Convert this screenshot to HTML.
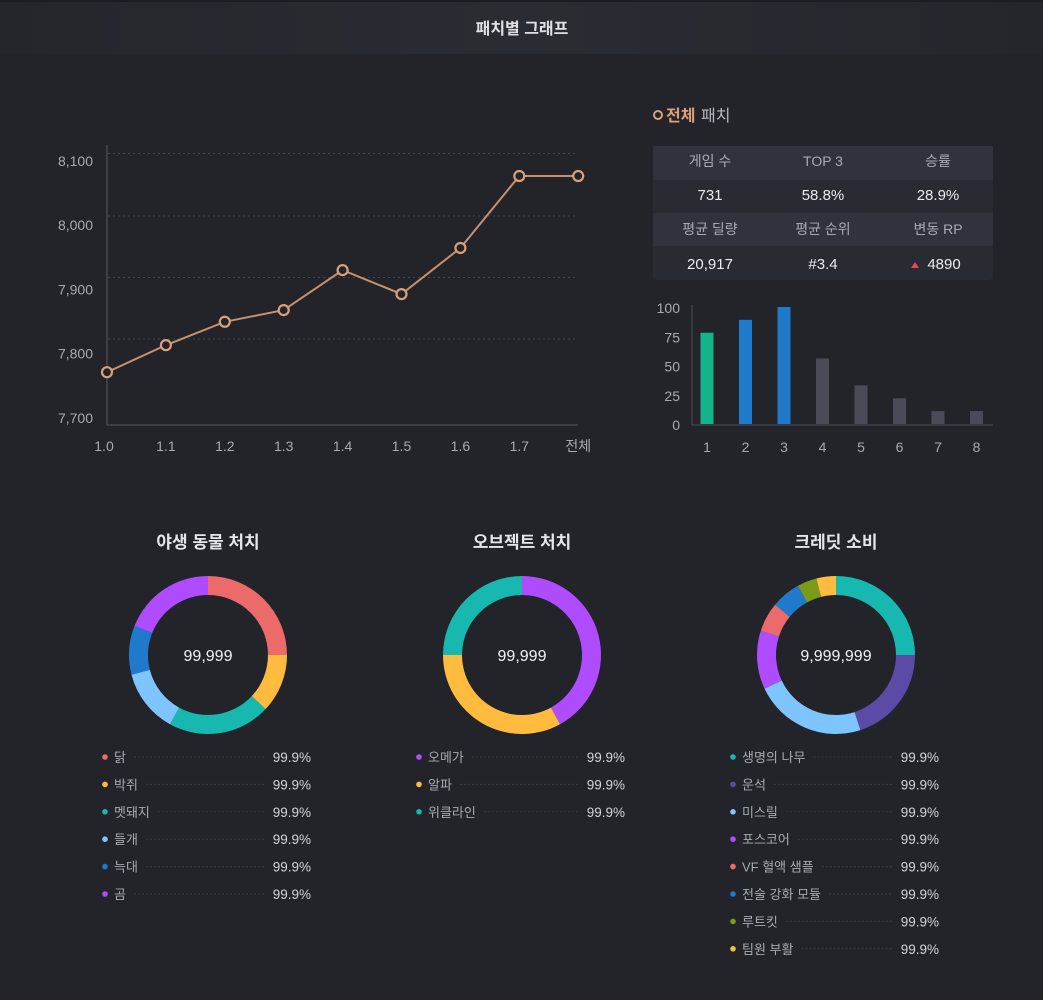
<!DOCTYPE html>
<html><head><meta charset="utf-8">
<style>
html,body{margin:0;padding:0;background:#23242a;width:1043px;height:1000px;overflow:hidden;font-family:"Liberation Sans","Noto Sans CJK KR",sans-serif;}
svg text{font-family:"Liberation Sans","Noto Sans CJK KR",sans-serif;}
</style></head>
<body>
<svg id="s" width="1043" height="1000" xmlns="http://www.w3.org/2000/svg">
<defs>
<linearGradient id="hg" x1="0" x2="1"><stop offset="0" stop-color="#25262c"/><stop offset="0.5" stop-color="#2a2c33"/><stop offset="1" stop-color="#25262c"/></linearGradient>
</defs>
<rect x="0" y="0" width="1043" height="2" fill="#1c1d22"/>
<rect x="0" y="2" width="1043" height="52" fill="url(#hg)"/>
<text x="522" y="34" text-anchor="middle" font-size="16" font-weight="bold" fill="#e0e0e4">패치별 그래프</text>

<g id="line"></g>

<g>
<circle cx="658" cy="115" r="4" fill="none" stroke="#d9a07a" stroke-width="2"/>
<text x="666" y="121" font-size="16" font-weight="bold" fill="#d9a07a">전체</text>
<text x="701" y="121" font-size="16" fill="#b8b9c0">패치</text>
</g>
<g id="tbl"></g>
<g id="bars"></g>
<g id="donuts"></g>
</svg>
<script>
const NS="http://www.w3.org/2000/svg";
const S=document.getElementById('s');
function mk(tag,at,parent,txt){const e=document.createElementNS(NS,tag);for(const k in at)e.setAttribute(k,at[k]);if(txt!==undefined)e.textContent=txt;parent.appendChild(e);return e;}

// ===== line chart data =====
const lineCategories=["1.0","1.1","1.2","1.3","1.4","1.5","1.6","1.7","전체"];
const lineValues=[7746,7790,7828,7847,7912,7873,7948,8065,8065];
const lineYTicks=[7700,7800,7900,8000,8100];
const lineYTickLabels=["7,700","7,800","7,900","8,000","8,100"];

// ===== bar chart data =====
const barCategories=["1","2","3","4","5","6","7","8"];
const barValues=[78,89,100,56,33,22,11,11];
const barTicks=[0,25,50,75,100];

// ===== table data =====
const tableHeaders1=["게임 수","TOP 3","승률"];
const tableValues1=["731","58.8%","28.9%"];
const tableHeaders2=["평균 딜량","평균 순위","변동 RP"];
const tableValues2=["20,917","#3.4","4890"];

// ===== donut data =====
const donutTitles=["야생 동물 처치","오브젝트 처치","크레딧 소비"];
const donutTotals=["99,999","99,999","9,999,999"];
const donut1Labels=["닭","박쥐","멧돼지","들개","늑대","곰"];
const donut1Values=[25,12,21,13,10,19];
const donut2Labels=["오메가","알파","위클라인"];
const donut2Values=[42,33,25];
const donut3Labels=["생명의 나무","운석","미스릴","포스코어","VF 혈액 샘플","전술 강화 모듈","루트킷","팀원 부활"];
const donut3Values=[25,20,23,12,6,6,4,4];
const donutPercents=["99.9%","99.9%","99.9%","99.9%","99.9%","99.9%","99.9%","99.9%"];

// ---- line chart ----
const LG=document.getElementById('line');
const lx=i=>107+i*58.9;
const ly=v=>339-(v-7800)*0.615;
const lyLabel=v=>418-(v-7700)*0.643;
[7800,7900,8000,8100].forEach((v,i)=>{
  const g=mk('line',{x1:108,x2:578,y1:ly(v)-(v==8100?1:0),y2:ly(v)-(v==8100?1:0),stroke:'#45464d','stroke-dasharray':'2 3','stroke-width':1},LG);
  
  
});
mk('line',{x1:107,x2:107,y1:145,y2:425,stroke:'#4d4e55','stroke-width':1.3},LG);
mk('line',{x1:107,x2:578,y1:425,y2:425,stroke:'#4d4e55','stroke-width':1.3},LG);
lineYTicks.forEach((v,i)=>{
  const t=mk('text',{x:93,y:lyLabel(v)+5,'text-anchor':'end','font-size':14,fill:'#a9aab0'},LG,lineYTickLabels[i]);
  
  
});
lineCategories.forEach((c,i)=>{
  const t=mk('text',{x:lx(i)-(i==0?3:0),y:451,'text-anchor':'middle','font-size':14,fill:'#a9aab0'},LG,c);
  
  
});
const pl=mk('polyline',{points:lineValues.map((v,i)=>lx(i)+','+ly(v)).join(' '),fill:'none',stroke:'#c8916c','stroke-width':2},LG);


lineValues.forEach((v,i)=>{
  const c=mk('circle',{cx:lx(i),cy:ly(v),r:5,fill:'#23242a',stroke:'#d9a07a','stroke-width':2.2},LG);
  
  
});

// ---- table ----
const TG=document.getElementById('tbl');
const colX=[710,823,938];
mk('rect',{x:653,y:146,width:340,height:134,rx:4,fill:'#2a2c33'},TG);
[[146,'#31333c'],[180,'#292b32'],[213,'#31333c'],[246,'#292b32']].forEach(r=>mk('rect',{x:653,y:r[0],width:340,height:r[0]==146?34:33,fill:r[1]},TG));
tableHeaders1.forEach((h,i)=>{const t=mk('text',{x:colX[i],y:166,'text-anchor':'middle','font-size':14,fill:'#a9aab0'},TG,h);});
tableValues1.forEach((h,i)=>{const t=mk('text',{x:colX[i],y:200,'text-anchor':'middle','font-size':15,fill:'#ececef'},TG,h);});
tableHeaders2.forEach((h,i)=>{const t=mk('text',{x:colX[i],y:234,'text-anchor':'middle','font-size':14,fill:'#a9aab0'},TG,h);});
tableValues2.forEach((h,i)=>{const t=mk('text',{x:colX[i]+(i==2?6:0),y:269,'text-anchor':'middle','font-size':15,fill:'#ececef'},TG,h);});
mk('polygon',{points:'911,268 919,268 915,262',fill:'#e8475a'},TG);

// ---- bars ----
const BG=document.getElementById('bars');
const bx=i=>707+i*38.5;
const by=v=>424-v*1.17;
mk('line',{x1:692,x2:692,y1:305,y2:425,stroke:'#4d4e55'},BG);
mk('line',{x1:692,x2:993,y1:425,y2:425,stroke:'#4d4e55'},BG);
barTicks.forEach(v=>{const t=mk('text',{x:680,y:by(v)+6,'text-anchor':'end','font-size':14,fill:'#a9aab0'},BG,String(v));});
barValues.forEach((v,i)=>{
  const col=i==0?'#14b38a':(i<3?'#1f7acc':'#4a4b57');
  const r=mk('rect',{x:bx(i)-6.5,y:by(v),width:13,height:424-by(v),fill:col},BG);
  
  
  const t=mk('text',{x:bx(i),y:452,'text-anchor':'middle','font-size':14,fill:'#a9aab0'},BG,barCategories[i]);
  
  
});

// ---- donuts ----
const DG=document.getElementById('donuts');
const colors1=['#eb6a6a','#ffbb3d','#17b8b0','#7ec4ff','#1f7acc','#b04cff'];
const colors2=['#b04cff','#ffbb3d','#17b8b0'];
const colors3=['#17b8b0','#5b4ba6','#7ec4ff','#b04cff','#eb6a6a','#1f7acc','#7a9a1a','#ffbb3d'];
const cfg=[[208,donut1Labels,donut1Values,colors1],[522,donut2Labels,donut2Values,colors2],[836,donut3Labels,donut3Values,colors3]];
cfg.forEach((c,d)=>{
  const cx=c[0],cy=655,R=79,r=60;
  const t=mk('text',{x:cx,y:548,'text-anchor':'middle','font-size':17,'font-weight':'bold',fill:'#e6e6ea'},DG,donutTitles[d]);
  
  
  const tot=c[2].reduce((a,b)=>a+b,0);
  let acc=0;
  c[2].forEach((v,i)=>{
    const a0=acc/tot*2*Math.PI-Math.PI/2;acc+=v;const a1=acc/tot*2*Math.PI-Math.PI/2;
    const big=(a1-a0)>Math.PI?1:0;
    const p=`M${cx+R*Math.cos(a0)},${cy+R*Math.sin(a0)} A${R},${R} 0 ${big} 1 ${cx+R*Math.cos(a1)},${cy+R*Math.sin(a1)} L${cx+r*Math.cos(a1)},${cy+r*Math.sin(a1)} A${r},${r} 0 ${big} 0 ${cx+r*Math.cos(a0)},${cy+r*Math.sin(a0)} Z`;
    const s=mk('path',{d:p,fill:c[3][i]},DG);
    
    
  });
  const ct=mk('text',{x:cx,y:661,'text-anchor':'middle','font-size':16,fill:'#f2f2f4'},DG,donutTotals[d]);
  
  
  const dotX=cx-103, valX=cx+103;
  c[1].forEach((lab,i)=>{
    const y=757+i*27.4;
    mk('circle',{cx:dotX,cy:y,r:2.8,fill:c[3][i]},DG);
    const lt=mk('text',{x:dotX+9,y:y+5,'font-size':13,fill:'#a9aab0'},DG,lab);
    
    
    let w=lab.length*13;
    try{w=lt.getComputedTextLength();}catch(e){}
    mk('line',{x1:dotX+9+w+8,x2:valX-46,y1:y,y2:y,stroke:'#3d3e45','stroke-dasharray':'2 2'},DG);
    const vt=mk('text',{x:valX,y:y+5,'text-anchor':'end','font-size':13.5,fill:'#d4d4d8'},DG,donutPercents[i]);
    
    
  });
});
</script>
</body></html>
